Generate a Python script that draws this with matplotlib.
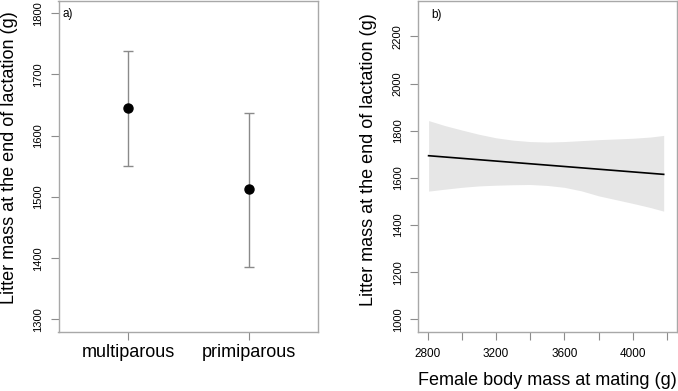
import matplotlib
matplotlib.use("Agg")
import matplotlib.pyplot as plt
import numpy as np

plt.rcParams['font.family'] = ['Liberation Sans', 'DejaVu Sans']

# Panel a data
categories = ["multiparous", "primiparous"]
means = [1645, 1513]
upper = [1738, 1637]
lower = [1550, 1386]

# Panel b data
body_mass = [2806, 2900, 3000, 3100, 3200, 3300, 3400, 3500, 3600, 3700, 3800, 3900, 4000, 4100, 4181]
band_upper = [1843, 1822, 1803, 1785, 1770, 1760, 1754, 1752, 1754, 1758, 1762, 1765, 1768, 1773, 1780]
band_lower = [1544, 1552, 1560, 1566, 1569, 1571, 1572, 1568, 1560, 1545, 1524, 1508, 1492, 1475, 1459]
fit_x = [2806, 4181]
fit_y = [1694, 1615]

W, H = 678, 391
fig = plt.figure(figsize=(W / 100, H / 100), dpi=100)

spine_col = '#a8a8a8'
tick_col = '#8c8c8c'


def px_axes(x0, x1, ytop, ybot):
    return fig.add_axes([x0 / W, (H - ybot) / H, (x1 - x0) / W, (ybot - ytop) / H])


# ---------- panel a ----------
ax1 = px_axes(58.5, 318.3, 1.0, 331.7)
xpos = np.arange(1, len(categories) + 1)
m = np.array(means)
yerr = np.vstack([m - np.array(lower), np.array(upper) - m])
ax1.errorbar(xpos, m, yerr=yerr, fmt='o', color='black', ms=6.5,
             ecolor='#8a8a8a', elinewidth=1.0, capsize=3.5, capthick=1.0, zorder=3)
ax1.set_xlim(0.42, 2.58)
ax1.set_ylim(1280, 1820)
ax1.set_yticks([1300, 1400, 1500, 1600, 1700, 1800])
ax1.set_xticks(xpos)
ax1.set_xticklabels(categories, fontsize=13)
ax1.tick_params(axis='y', labelrotation=90, labelsize=8, length=6, color=tick_col, pad=5)
for lab in ax1.get_yticklabels():
    lab.set_va('center')
ax1.tick_params(axis='x', length=6, color=tick_col, pad=3)
ax1.set_ylabel("Litter mass at the end of lactation (g)", fontsize=13)
ax1.yaxis.set_label_coords(-0.19, 0.525)
ax1.yaxis.label.set_va('center')
ax1.text(0.017, 0.962, "a)", transform=ax1.transAxes, fontsize=8.5, va='center', ha='left')

# ---------- panel b ----------
ax2 = px_axes(418.0, 676.5, 0.5, 331.7)
ax2.fill_between(body_mass, band_lower, band_upper, color='#e6e6e6', linewidth=0, zorder=1)
ax2.plot(fit_x, fit_y, color='black', lw=1.2, zorder=2)
ax2.set_xlim(2744, 4256)
ax2.set_ylim(948, 2352)
ax2.set_yticks(np.arange(1000, 2201, 200))
ax2.set_xticks(np.arange(2800, 4201, 200))
ax2.set_xticklabels([str(v) if v in (2800, 3200, 3600, 4000) else '' for v in range(2800, 4201, 200)])
ax2.tick_params(axis='y', labelrotation=90, labelsize=8, length=6, color=tick_col, pad=5)
for lab in ax2.get_yticklabels():
    lab.set_va('center')
ax2.tick_params(axis='x', labelsize=8.5, length=6, color=tick_col, pad=6)
ax2.set_ylabel("Litter mass at the end of lactation (g)", fontsize=13)
ax2.yaxis.set_label_coords(-0.19, 0.52)
ax2.yaxis.label.set_va('center')
ax2.set_xlabel("Female body mass at mating (g)", fontsize=13)
ax2.xaxis.set_label_coords(0.5, -0.146)
ax2.xaxis.label.set_va('center')
ax2.text(0.05, 0.955, "b)", transform=ax2.transAxes, fontsize=8.5, va='center', ha='left')

for ax in (ax1, ax2):
    for s in ax.spines.values():
        s.set_color(spine_col)
        s.set_linewidth(1.0)

fig.savefig("out.png", dpi=100)
